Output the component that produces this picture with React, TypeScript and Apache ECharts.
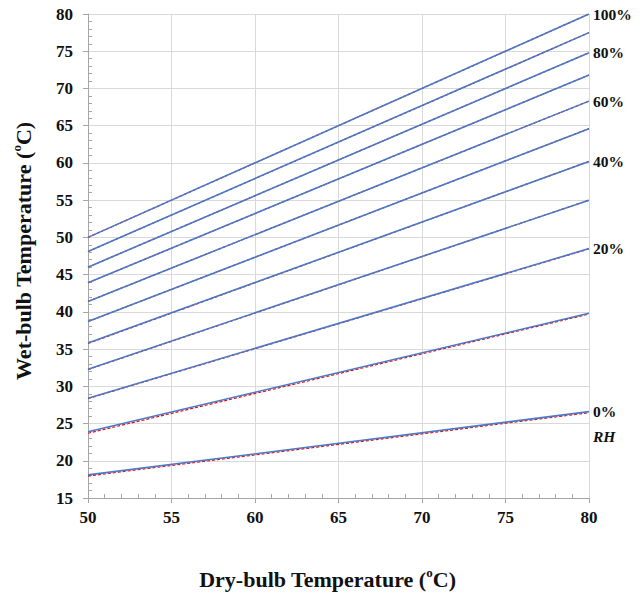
import React, { useEffect, useRef } from "react";
import * as echarts from "echarts";

const rhLevels = [0, 10, 20, 30, 40, 50, 60, 70, 80, 90, 100];
const dryBulbRange = [50, 80];
const wetBulbBlueStart = [18.1, 23.9, 28.4, 32.3, 35.8, 38.7, 41.4, 43.9, 46.0, 48.1, 50.0];
const wetBulbBlueEnd = [26.6, 39.8, 48.5, 55.0, 60.2, 64.6, 68.3, 71.8, 74.8, 77.5, 80.0];
const wetBulbRedStart = [17.95, 23.7, 28.35, 32.25, 35.75, 38.7, 41.4, 43.9, 46.0, 48.1, 50.0];
const wetBulbRedEnd = [26.45, 39.7, 48.45, 55.0, 60.2, 64.6, 68.3, 71.8, 74.8, 77.5, 80.0];
const labeledLevels = [0, 20, 40, 60, 80, 100];
const xMin = 50, xMax = 80, xStep = 5;
const yMin = 15, yMax = 80, yStep = 5;

const FONT = '"Liberation Serif", "Times New Roman", serif';
const BLUE = "#4a7ac6";
const RED = "#ff0000";

export default function App() {
  const ref = useRef<HTMLDivElement>(null);
  useEffect(() => {
    if (!ref.current) return;
    const chart = echarts.init(ref.current, null, { renderer: "svg" });
    const series: any[] = [];
    rhLevels.forEach((rh, i) => {
      series.push({
        type: "line",
        name: "ref" + rh,
        data: [
          [dryBulbRange[0], wetBulbRedStart[i]],
          [dryBulbRange[1], wetBulbRedEnd[i]],
        ],
        symbol: "none",
        z: 2,
        lineStyle: { color: RED, width: 1.2, type: [3, 2] },
      });
      const labeled = labeledLevels.includes(rh);
      series.push({
        type: "line",
        name: "model" + rh,
        data: [
          [dryBulbRange[0], wetBulbBlueStart[i]],
          [dryBulbRange[1], wetBulbBlueEnd[i]],
        ],
        symbol: "none",
        z: 3,
        lineStyle: { color: BLUE, width: 1.6 },
        endLabel: labeled
          ? {
              show: true,
              distance: 4,
              formatter: rh === 0 ? "{a|0%}\n{b|RH}" : rh + "%",
              color: "#111",
              fontFamily: FONT,
              fontWeight: "bold",
              fontSize: 15.5,
              offset: rh === 0 ? [0, 12] : [0, 0],
              rich:
                rh === 0
                  ? {
                      a: { fontFamily: FONT, fontWeight: "bold", fontSize: 15.5, color: "#111", lineHeight: 25 },
                      b: { fontFamily: FONT, fontWeight: "bold", fontStyle: "italic", fontSize: 15.5, color: "#111", lineHeight: 25 },
                    }
                  : undefined,
            }
          : { show: false },
      });
    });

    const axisLabel = { color: "#111", fontFamily: FONT, fontWeight: "bold", fontSize: 17 };
    const titleRich = {
      m: { fontFamily: FONT, fontWeight: "bold", fontSize: 22, color: "#111", lineHeight: 26 },
      s: { fontFamily: FONT, fontWeight: "bold", fontSize: 13, color: "#111", lineHeight: 26, verticalAlign: "top" },
    };

    chart.setOption({
      animation: false,
      grid: { left: 88, right: 52, top: 14, bottom: 95, containLabel: false },
      xAxis: [
        {
          type: "value",
          min: xMin,
          max: xMax,
          interval: xStep,
          axisLine: { show: true, lineStyle: { color: "#a6a6a6", width: 1 } },
          axisTick: { show: true, inside: false, length: 5, lineStyle: { color: "#a6a6a6" } },
          minorTick: { show: false },
          splitLine: { show: true, lineStyle: { color: "#d9d9d9", width: 1 } },
          axisLabel: { ...axisLabel, margin: 11 },
          name: "{m|Dry-bulb Temperature (}{s|o}{m|C)}",
          nameLocation: "middle",
          nameGap: 68,
          nameTextStyle: { rich: titleRich, padding: [0, 22, 0, 0] },
        },
        {
          type: "value",
          min: xMin,
          max: xMax,
          interval: xStep,
          position: "bottom",
          axisLine: { show: false },
          axisTick: { show: false, inside: true },
          minorTick: { show: true, splitNumber: 5, length: 4, lineStyle: { color: "#a6a6a6" } },
          splitLine: { show: false },
          axisLabel: { show: false },
        },
      ],
      yAxis: [
        {
          type: "value",
          min: yMin,
          max: yMax,
          interval: yStep,
          axisLine: { show: true, lineStyle: { color: "#a6a6a6", width: 1 } },
          axisTick: { show: true, inside: false, length: 5, lineStyle: { color: "#a6a6a6" } },
          minorTick: { show: false },
          splitLine: { show: true, lineStyle: { color: "#d9d9d9", width: 1 } },
          axisLabel: { ...axisLabel, margin: 15 },
          name: "{m|Wet-bulb Temperature (}{s|o}{m|C)}",
          nameLocation: "middle",
          nameRotate: 90,
          nameGap: 52,
          nameTextStyle: { rich: titleRich, padding: [0, 0, 0, 10] },
        },
        {
          type: "value",
          min: yMin,
          max: yMax,
          interval: yStep,
          position: "left",
          axisLine: { show: false },
          axisTick: { show: false, inside: true },
          minorTick: { show: true, splitNumber: 5, length: 4, lineStyle: { color: "#a6a6a6" } },
          splitLine: { show: false },
          axisLabel: { show: false },
        },
      ],
      series,
    });
    return () => chart.dispose();
  }, []);
  return (
    <div
      ref={ref}
      style={{ position: "absolute", left: 0, top: 0, width: 641, height: 595, background: "#fff" }}
    />
  );
}
